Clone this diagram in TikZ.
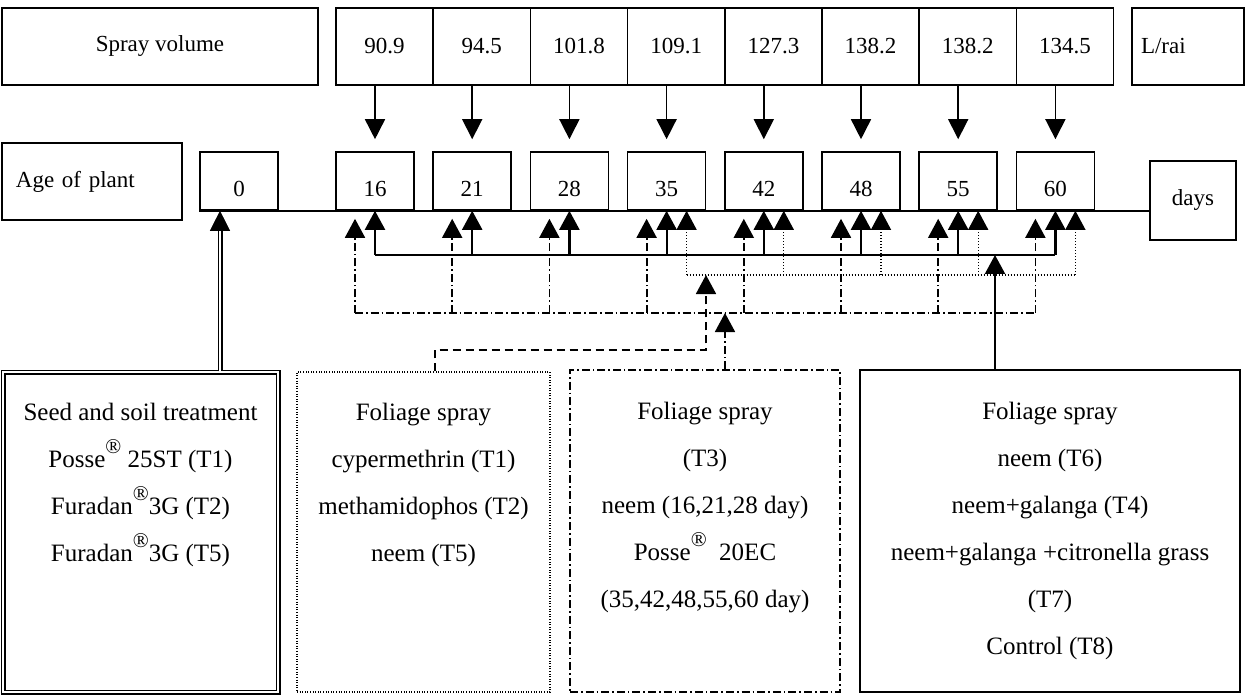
\documentclass[tikz,border=0pt]{standalone}
\usepackage{fontspec}
\setmainfont{Liberation Serif}
\usetikzlibrary{arrows.meta,positioning}
\newcommand{\reg}{\raisebox{7pt}{\fontsize{10.5}{10.5}\selectfont\textregistered}}
\tikzset{
  box/.style={draw, rectangle, line width=0.8pt, inner sep=0pt},
  cell/.style={box, minimum width=48.6pt, minimum height=38.5pt},
  day/.style={box, minimum width=39pt, minimum height=29pt, text height=16pt, text depth=0pt},
  panel/.style={rectangle, inner sep=0pt, minimum height=160pt},
  lines/.style={anchor=north, align=center, inner sep=0pt, font=\fontsize{12.5}{23.5}\selectfont},
  dashdot/.style={dash pattern=on 4pt off 1.5pt on 0.8pt off 1.5pt},
  arr/.style={-{Triangle[length=10pt, width=10pt]}, line width=0.8pt},
  sarr/.style={-{Triangle[length=9.5pt, width=10pt]}, line width=1.1pt},
  oarr/.style={-{Triangle[length=9.5pt, width=10pt]}, line width=0.6pt, dash pattern=on 0.6pt off 0.9pt},
  qarr/.style={-{Triangle[length=9.5pt, width=10pt]}, line width=0.9pt, dashdot},
  darr/.style={-{Triangle[length=9.5pt, width=10pt]}, line width=0.9pt, dash pattern=on 4pt off 2.5pt},
  dbl/.style={draw, double, double distance=1.3pt, line width=0.6pt}
}

\begin{document}
\begin{tikzpicture}[x=0.5pt, y=-0.5pt, font=\fontsize{11.5}{23.25}\selectfont]
\useasboundingbox (0,0) rectangle (1247,695);
% spray volume row
\node[box, minimum width=158pt, minimum height=38.5pt] (spray) at (160,46.5) {Spray volume};
\foreach \v [count=\i] in {90.9,94.5,101.8,109.1,127.3,138.2,138.2,134.5}
  \node[cell] (v\i) at ({287.4+97.2*\i},46.5) {\v};
\node[box, minimum width=56pt, minimum height=38.5pt, text width=47pt, align=left, inner xsep=4.5pt] (unit) at (1188,46.5) {L/rai};
% age of plant row
\node[box, minimum width=90pt, minimum height=38.5pt, text width=76pt, align=left, inner xsep=7pt] (age) at (92,181.5) {Age of plant};
\node[day] (d0) at (239,181) {0};
\foreach \d [count=\i] in {16,21,28,35,42,48,55,60}
  \node[day] (d\i) at ({277.8+97.2*\i},181) {\d};
\node[box, minimum width=43pt, minimum height=39.5pt] (days) at (1193,200.5) {days};
\draw[line width=0.8pt] (d0.south west) -- (days.west |- d0.south);
\foreach \i in {1,...,8}
  \draw[arr] (v\i.south -| d\i.north) -- ([yshift=6pt]d\i.north);
% treatment panels
\node[panel, dbl, minimum width=137.5pt] (t1) at (140.5,532) {};
\node[panel, draw, line width=0.6pt, dash pattern=on 0.5pt off 0.8pt, minimum width=126.5pt] (t2) at (423.5,532) {};
\node[panel, draw, line width=0.9pt, dashdot, minimum width=135pt, minimum height=161pt] (t3) at (705,531) {};
\node[panel, draw, line width=1pt, minimum width=190pt, minimum height=161pt] (t4) at (1050,531) {};
\node[lines, below=15.5pt of t1.north] (l1) {Seed and soil treatment\\Posse\reg{} 25ST (T1)\\Furadan\reg{}3G (T2)\\Furadan\reg{}3G (T5)};
\node[lines, below=15.5pt of t2.north] (l2) {Foliage spray\\cypermethrin (T1)\\methamidophos (T2)\\neem (T5)};
\node[lines, below=16.5pt of t3.north] (l3) {Foliage spray\\(T3)\\neem (16,21,28 day)\\Posse\reg{}\ \ 20EC\\(35,42,48,55,60 day)};
\node[lines, below=16.5pt of t4.north] (l4) {Foliage spray\\neem (T6)\\neem+galanga (T4)\\neem+galanga +citronella grass\\(T7)\\Control (T8)};
% collecting lines under the days
\coordinate (sl) at (0,255);
\coordinate (ol) at (0,275);
\coordinate (ql) at (0,313);
\foreach \i in {1,...,8} {
  \coordinate (p\i) at ([xshift=10pt]d\i.south);
  \coordinate (m\i) at ([xshift=-10pt,yshift=-4pt]d\i.south);
}
\foreach \i in {1,...,8} \draw[sarr] (d\i.south |- sl) -- (d\i.south);
\draw[line width=1.1pt] (d1.south |- sl) -- (d8.south |- sl);
\foreach \i in {4,...,8} \draw[oarr] (p\i |- ol) -- (p\i);
\draw[line width=0.6pt, dash pattern=on 0.6pt off 0.9pt] (p4 |- ol) -- (p8 |- ol);
\foreach \i in {1,...,8} \draw[qarr] (m\i |- ql) -- (m\i);
\draw[line width=0.9pt, dashdot] (m1 |- ql) -- (m8 |- ql);
% panels to the lines
\coordinate (c1) at ([xshift=39.75pt]t1.north);
\draw[dbl, shorten >=9pt] (c1) -- (c1 |- d0.south);
\draw[-{Triangle[length=10pt, width=10pt]}, line width=0.3pt] (c1 |- d0.south) ++(0,18) -- (c1 |- d0.south);
\coordinate (c2) at ([xshift=5.75pt]t2.north);
\coordinate (k2) at (706,350);
\draw[darr] (c2) |- (k2) -- (k2 |- ol);
\coordinate (c3) at ([xshift=10pt]t3.north);
\draw[qarr] (c3) -- (c3 |- ql);
\coordinate (c4) at ([xshift=-27.5pt]t4.north);
\draw[sarr] (c4) -- (c4 |- sl);
\end{tikzpicture}
\end{document}
